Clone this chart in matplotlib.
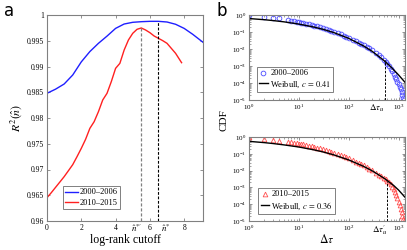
import numpy as np
import matplotlib
matplotlib.use('Agg')
import matplotlib.pyplot as plt
from matplotlib.transforms import blended_transform_factory
from matplotlib.ticker import LogLocator, NullFormatter

plt.rcParams['font.family'] = ['Liberation Serif', 'DejaVu Serif']
plt.rcParams['mathtext.fontset'] = 'stix'

# ---- panel a: R^2 vs log-rank cutoff ----
cutoff_blue = [0, 0.5, 1, 1.5, 2, 2.5, 3, 3.5, 4, 4.5, 5, 5.5, 6, 6.5, 7, 7.5, 8, 8.5, 9.1]
r2_blue = [0.9848, 0.9856, 0.9866, 0.98835, 0.9909, 0.9929, 0.9945, 0.9959, 0.9974, 0.99825,
           0.99858, 0.9987, 0.99877, 0.99877, 0.99864, 0.9982, 0.9974, 0.99625, 0.9947]
cutoff_red = [0, 0.25, 0.5, 0.75, 1, 1.25, 1.5, 1.75, 2, 2.25, 2.5, 2.75, 3, 3.25, 3.5, 3.75,
              4, 4.25, 4.5, 4.75, 5, 5.25, 5.5, 5.75, 6, 6.25, 6.5, 6.75, 7, 7.25, 7.5, 7.85]
r2_red = [0.96453, 0.9655, 0.96654, 0.96757, 0.96861, 0.96977, 0.97094, 0.97249, 0.97411,
          0.97586, 0.97799, 0.97929, 0.98123, 0.9835, 0.98479, 0.98706, 0.98964, 0.99061,
          0.9932, 0.99515, 0.99644, 0.99722, 0.99748, 0.99709, 0.99657, 0.99592, 0.99547,
          0.99502, 0.9945, 0.99353, 0.99256, 0.99074]
n_star_prime = 5.5
n_star = 6.5
a_yticks = [0.96, 0.965, 0.97, 0.975, 0.98, 0.985, 0.99, 0.995, 1.0]
a_yticklabels = ['0.96', '0.965', '0.97', '0.975', '0.98', '0.985', '0.99', '0.995', '1']

# ---- panel b: CDF of waiting times ----
dt_blue = [1, 2, 3, 4, 6, 7, 8, 9, 10, 11, 12, 14, 16, 18, 20, 23, 26, 30, 35, 40, 45, 50,
           60, 70, 80, 90, 100, 120, 140, 160, 180, 200, 230, 260, 300, 350, 400, 450, 500,
           550, 600, 650, 700, 750, 800, 850, 900, 950, 1000, 1050, 1100, 1150, 1200, 1240, 1270]
cdf_blue = [1.0, 0.79, 0.71, 0.64, 0.52, 0.47, 0.44, 0.41, 0.38, 0.36, 0.34, 0.31, 0.28, 0.26,
            0.24, 0.215, 0.195, 0.172, 0.15, 0.132, 0.118, 0.106, 0.087, 0.073, 0.062, 0.054,
            0.047, 0.036, 0.029, 0.024, 0.02, 0.017, 0.0135, 0.011, 0.0082, 0.0059, 0.0043,
            0.0032, 0.0024, 0.0018, 0.0013, 9.5e-4, 6.8e-4, 4.8e-4, 3.4e-4, 2.4e-4, 1.7e-4,
            1.2e-4, 8.5e-5, 6e-5, 4.2e-5, 2.9e-5, 2e-5, 1.4e-5, 1.05e-5]
fit_x_blue = [1, 2, 3, 5, 10, 20, 30, 50, 100, 200, 300, 500, 700, 1000, 1350]
fit_y_blue = [0.62, 0.53, 0.472, 0.397, 0.293, 0.196, 0.146, 0.093, 0.0424, 0.015, 0.0071,
              0.0022, 9.0e-4, 3.0e-4, 1.1e-4]
dt_u = 525
dt_u_cdf = 0.0022

dt_red = [1, 2, 3, 4, 6, 7, 8, 9, 10, 11, 12, 14, 16, 18, 20, 23, 26, 30, 35, 40, 45, 50,
          60, 70, 80, 90, 100, 120, 140, 160, 180, 200, 230, 260, 300, 350, 400, 450, 500,
          550, 600, 650, 700, 750, 800, 850, 900, 950, 1000, 1050, 1100, 1150, 1200, 1230, 1260]
cdf_red = [1.0, 0.75, 0.66, 0.6, 0.52, 0.49, 0.46, 0.435, 0.41, 0.39, 0.37, 0.335, 0.305,
           0.28, 0.26, 0.235, 0.212, 0.19, 0.165, 0.146, 0.13, 0.117, 0.096, 0.081, 0.07,
           0.061, 0.054, 0.042, 0.034, 0.028, 0.024, 0.0205, 0.016, 0.013, 0.0102, 0.0076,
           0.0058, 0.0045, 0.0036, 0.003, 0.0025, 0.002, 0.0015, 0.0011, 7.5e-4, 5e-4, 3.3e-4,
           2.2e-4, 1.4e-4, 9e-5, 5.5e-5, 3.3e-5, 2e-5, 1.4e-5, 1e-5]
fit_x_red = [1, 2, 3, 5, 10, 20, 30, 50, 100, 200, 300, 500, 600, 800, 1000, 1350]
fit_y_red = [0.55, 0.464, 0.41, 0.34, 0.254, 0.172, 0.131, 0.087, 0.0433, 0.0178, 0.0095,
             0.0037, 0.0025, 0.0013, 7.0e-4, 2.6e-4]
dt_u2 = 600
dt_u2_cdf = 0.0025

spine_col = '#808080'


def style_ax(ax):
    for s in ax.spines.values():
        s.set_color(spine_col)
        s.set_linewidth(0.8)
    ax.tick_params(which='both', direction='in', top=True, right=True, color=spine_col,
                   labelsize=5.5, pad=2)
    ax.tick_params(which='major', length=2.5, width=0.6)
    ax.tick_params(which='minor', length=1.4, width=0.5)


fig = plt.figure(figsize=(4.07, 2.5), dpi=100)

# panel a
axa = fig.add_axes([0.1155, 0.116, 0.3833, 0.824])
axa.plot(cutoff_blue, r2_blue, color='#1f1fff', lw=1.0, label='2000\u20132006')
axa.plot(cutoff_red, r2_red, color='#ff2020', lw=1.0, label='2010\u20132015')
axa.vlines(n_star_prime, 0.96, max(r2_red), colors='#808080', linestyles=(0, (2.5, 1.5)), lw=0.9)
axa.vlines(n_star, 0.96, max(r2_blue), colors='black', linestyles=(0, (2.5, 1.5)), lw=0.8)
axa.set_xlim(0, 9.1)
axa.set_ylim(0.96, 1.0)
axa.set_xticks([0, 2, 4, 6, 8])
axa.set_yticks(a_yticks)
axa.set_yticklabels(a_yticklabels)
style_ax(axa)
axa.set_xlabel('log-rank cutoff', fontsize=8.5, labelpad=1.5)
axa.set_ylabel(r'$R^2(\hat{n})$', fontsize=8.5, labelpad=2)
trans = blended_transform_factory(axa.transData, axa.transAxes)
axa.text(n_star_prime - 0.25, -0.006, r"$\hat{n}^{*\prime}$", transform=trans, ha='center',
         va='top', fontsize=6.5)
axa.text(n_star + 0.4, -0.006, r"$\hat{n}^{*}$", transform=trans, ha='center', va='top',
         fontsize=6.5)
leg = axa.legend(loc='lower left', bbox_to_anchor=(0.1, 0.058), borderaxespad=0, fontsize=6,
                 handlelength=1.5, handletextpad=0.2, borderpad=0.3, labelspacing=0.25,
                 fancybox=False, edgecolor=spine_col, framealpha=1)
leg.get_frame().set_linewidth(0.7)
fig.text(0.022, 0.955, 'a', fontsize=12, family='DejaVu Sans', va='center', ha='center')


def cdf_panel(rect, dt, cdf, fx, fy, marker, mcol, lab, clab, du, dcdf, dulab, legpos):
    ax = fig.add_axes(rect)
    ax.set_xscale('log')
    ax.set_yscale('log')
    ax.plot(dt, cdf, ls='none', marker=marker, ms=3.4, mfc='none', mec=mcol, mew=0.6,
            label=lab)
    ax.plot(fx, fy, color='black', lw=1.0, label=clab)
    ax.vlines(du, 1e-5, dcdf, colors='black', linestyles=(0, (2.5, 1.5)), lw=0.7)
    ax.set_xlim(1, 1350)
    ax.set_ylim(1e-5, 1)
    ax.xaxis.set_major_locator(LogLocator(base=10, numticks=10))
    ax.xaxis.set_minor_locator(LogLocator(base=10, subs=np.arange(2, 10), numticks=20))
    ax.xaxis.set_minor_formatter(NullFormatter())
    ax.yaxis.set_major_locator(LogLocator(base=10, numticks=10))
    ax.yaxis.set_minor_locator(LogLocator(base=10, subs=np.arange(2, 10), numticks=20))
    ax.yaxis.set_minor_formatter(NullFormatter())
    style_ax(ax)
    ax.tick_params(labelsize=5)
    t = blended_transform_factory(ax.transData, ax.transAxes)
    ax.text(du * 0.7, -0.03, dulab, transform=t, ha='center', va='top', fontsize=6.5)
    lg = ax.legend(loc='lower left', bbox_to_anchor=legpos, borderaxespad=0, fontsize=6,
                   handlelength=1.0, handletextpad=0.3, borderpad=0.3, labelspacing=0.2,
                   fancybox=False, edgecolor=spine_col, framealpha=1)
    lg.get_frame().set_linewidth(0.7)
    return ax


axb1 = cdf_panel([0.6118, 0.6, 0.3833, 0.34], dt_blue, cdf_blue, fit_x_blue, fit_y_blue,
                 'o', '#4a4aff', '2000\u20132006', r'Weibull, $c\,=\,0.41$', dt_u, dt_u_cdf,
                 r'$\Delta\tau_u$', (0.05, 0.094))
axb2 = cdf_panel([0.6118, 0.116, 0.3833, 0.336], dt_red, cdf_red, fit_x_red, fit_y_red,
                 '^', '#ff5050', '2010\u20132015', r'Weibull, $c\,=\,0.36$', dt_u2, dt_u2_cdf,
                 r"$\Delta\tau_u'$", (0.058, 0.083))
axb2.set_xlabel(r'$\Delta\tau$', fontsize=8.5, labelpad=0)
fig.text(0.55, 0.52, 'CDF', rotation=90, fontsize=8, ha='center', va='center')
fig.text(0.545, 0.955, 'b', fontsize=12, family='DejaVu Sans', va='center', ha='center')

fig.savefig('out.png', dpi=100)
